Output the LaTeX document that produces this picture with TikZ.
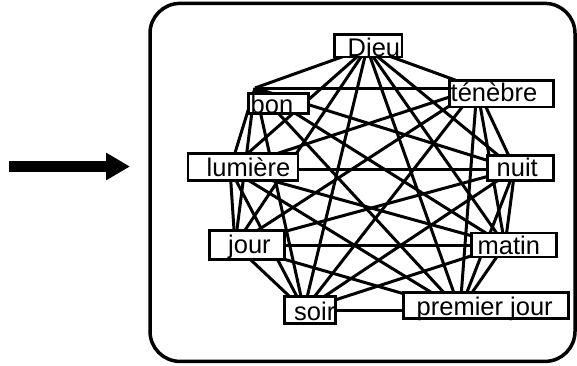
\documentclass[tikz,border=0pt]{standalone}
\usepackage{fontspec}
\setmainfont{Liberation Sans}
\usetikzlibrary{arrows.meta}
\begin{document}
\begin{tikzpicture}[x=1pt,y=-1pt,
  edge/.style={line width=3pt},
  lbox/.style={draw, fill=white, line width=2.7pt, inner sep=0pt, rectangle},
  txt/.style={inner sep=0pt, anchor=base west, font=\fontsize{25.5}{30}\selectfont},
  frame/.style={draw, rounded corners=30pt, line width=3.5pt, inner sep=0pt, rectangle}]
\useasboundingbox (0,0) rectangle (577,365);
% frame and arrow
\node[frame, minimum width=425pt, minimum height=358pt] (frm) at (362.5,182.4) {};
\coordinate (astart) at (9.3,166.5);
\coordinate (aend) at (130,166.5);
\draw[line width=11pt, -{Triangle[length=24pt,width=26pt]}] (astart) -- (aend);
% ports
\coordinate (pDieu) at (367,48);
\coordinate (pten) at (477,88);
\coordinate (pnuit) at (515,169);
\coordinate (pmatin) at (505,245);
\coordinate (ppj) at (460,310);
\coordinate (psoir) at (304,310);
\coordinate (pjour) at (235,245);
\coordinate (plum) at (230,169);
\coordinate (pbon) at (255,88);
% edges
\foreach \a/\b in {Dieu/ten,Dieu/nuit,Dieu/matin,Dieu/pj,Dieu/soir,Dieu/jour,Dieu/lum,Dieu/bon,
  ten/nuit,ten/matin,ten/pj,ten/soir,ten/jour,ten/lum,ten/bon,
  nuit/matin,nuit/pj,nuit/soir,nuit/jour,nuit/lum,nuit/bon,
  matin/pj,matin/soir,matin/jour,matin/lum,matin/bon,
  pj/soir,pj/jour,pj/lum,pj/bon,
  soir/jour,soir/lum,soir/bon,
  jour/lum,jour/bon,
  lum/bon}
  \draw[edge] (p\a) -- (p\b);
% boxes
\node[lbox, minimum width=67.5pt, minimum height=22.5pt] (Dieu) at (368.3,45.8) {};
\node[lbox, minimum width=104pt, minimum height=26.5pt] (ten) at (501.7,93.8) {};
\node[lbox, minimum width=60pt, minimum height=20pt] (bon) at (278.8,103.8) {};
\node[lbox, minimum width=110pt, minimum height=27pt] (lum) at (243,167) {};
\node[lbox, minimum width=66.5pt, minimum height=25.2pt] (nuit) at (520.5,167.8) {};
\node[lbox, minimum width=75pt, minimum height=29pt] (jour) at (247.2,245) {};
\node[lbox, minimum width=85pt, minimum height=24pt] (matin) at (513.8,245) {};
\node[lbox, minimum width=51pt, minimum height=27.5pt] (soir) at (310,310) {};
\node[lbox, minimum width=165pt, minimum height=26.5pt] (pj) at (486.3,305.5) {};
% texts
\node[txt] (tDieu) at (347.5,56.7) {Dieu};
\node[txt] (tten) at (450.5,101.7) {ténèbre};
\node[txt] (tbon) at (250.5,113.3) {bon};
\node[txt] (tlum) at (206.5,176.7) {lumière};
\node[txt] (tnuit) at (496.5,176.7) {nuit};
\node[txt] (tjour) at (228,253.3) {jour};
\node[txt] (tmatin) at (477.5,254) {matin};
\node[txt] (tsoir) at (294,320) {soir};
\node[txt] (tpj) at (416.5,315) {premier jour};
\end{tikzpicture}
\end{document}
